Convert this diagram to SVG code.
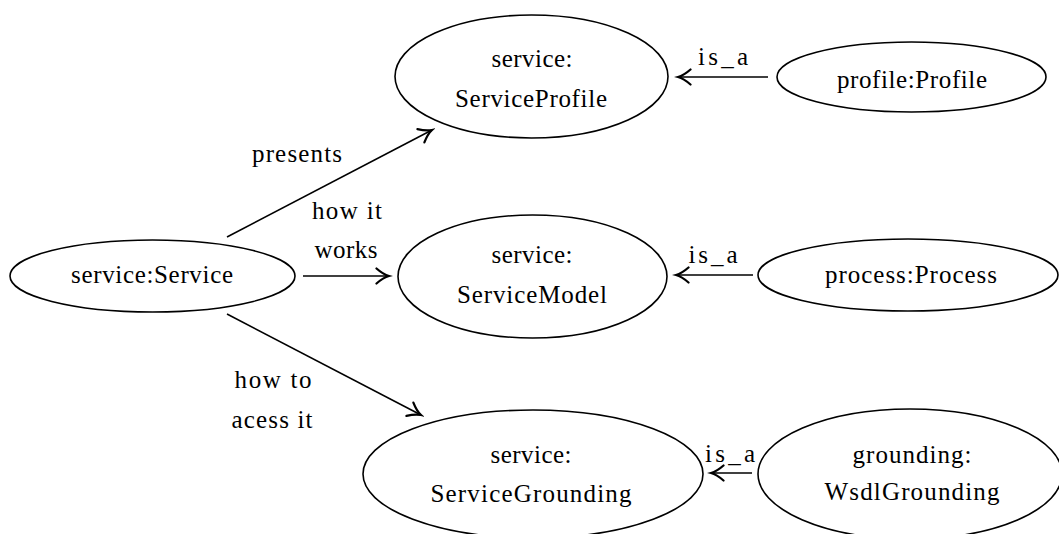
<svg xmlns="http://www.w3.org/2000/svg" width="1059" height="534" viewBox="0 0 1059 534">
<style>
  .node { fill: none; stroke: #000; stroke-width: 1.6; }
  .t { font-size: 25px; fill: #000; text-anchor: middle; }
  .e { stroke: #000; stroke-width: 1.6; fill: none; }
</style>
<defs>
  <marker id="arr" markerUnits="userSpaceOnUse" markerWidth="20" markerHeight="20" refX="0" refY="0" viewBox="-12 -8 14 16" orient="auto">
    <path d="M-10,-6 C-6,-2.5 -3,-0.8 0,0 C-3,0.8 -6,2.5 -10,6" fill="none" stroke="#000" stroke-width="1.8" stroke-linecap="round"/>
  </marker>
</defs>
<rect width="1059" height="534" fill="#fff"/>
<g font-family="Liberation Serif, DejaVu Serif, serif">
<g id="service">
  <ellipse class="node" cx="152.5" cy="276" rx="142.5" ry="36"/>
  <text class="t" x="152" y="283" textLength="162">service:Service</text>
</g>
<g id="serviceProfile">
  <ellipse class="node" cx="531.5" cy="76.5" rx="136.5" ry="61.5"/>
  <text class="t" x="532" y="67" textLength="81">service:</text>
  <text class="t" x="531" y="107" textLength="152">ServiceProfile</text>
</g>
<g id="serviceModel">
  <ellipse class="node" cx="532.5" cy="276.5" rx="134.5" ry="61.5"/>
  <text class="t" x="532" y="263" textLength="81">service:</text>
  <text class="t" x="532" y="303" textLength="150">ServiceModel</text>
</g>
<g id="serviceGrounding">
  <ellipse class="node" cx="533" cy="474" rx="170" ry="64"/>
  <text class="t" x="531" y="463" textLength="81">service:</text>
  <text class="t" x="531" y="502" textLength="201">ServiceGrounding</text>
</g>
<g id="profile">
  <ellipse class="node" cx="911.5" cy="77" rx="134.5" ry="35"/>
  <text class="t" x="912" y="88" textLength="150">profile:Profile</text>
</g>
<g id="process">
  <ellipse class="node" cx="908" cy="275" rx="150" ry="36"/>
  <text class="t" x="911" y="283" textLength="172">process:Process</text>
</g>
<g id="wsdlGrounding">
  <ellipse class="node" cx="910" cy="474" rx="152" ry="65"/>
  <text class="t" x="912" y="463" textLength="119">grounding:</text>
  <text class="t" x="912" y="500" textLength="175">WsdlGrounding</text>
</g>

<g id="connectors">
  <line class="e" x1="227" y1="237" x2="432" y2="130" marker-end="url(#arr)"/>
  <line class="e" x1="303" y1="276" x2="389" y2="276" marker-end="url(#arr)"/>
  <line class="e" x1="227" y1="314" x2="421" y2="415" marker-end="url(#arr)"/>
  <line class="e" x1="768" y1="77" x2="678" y2="77" marker-end="url(#arr)"/>
  <line class="e" x1="753" y1="275" x2="676" y2="275" marker-end="url(#arr)"/>
  <line class="e" x1="752" y1="473" x2="711" y2="473" marker-end="url(#arr)"/>
  <text class="t" x="297" y="162" textLength="90">presents</text>
  <text class="t" x="347" y="219" textLength="70">how it</text>
  <text class="t" x="346" y="258" textLength="63">works</text>
  <text class="t" x="273" y="388" textLength="77">how to</text>
  <text class="t" x="272" y="428" textLength="81">acess it</text>
  <text class="t" x="723" y="65" textLength="50">is_a</text>
  <text class="t" x="713" y="263" textLength="49">is_a</text>
  <text class="t" x="730" y="462" textLength="50">is_a</text>
</g>
</g>
</svg>
